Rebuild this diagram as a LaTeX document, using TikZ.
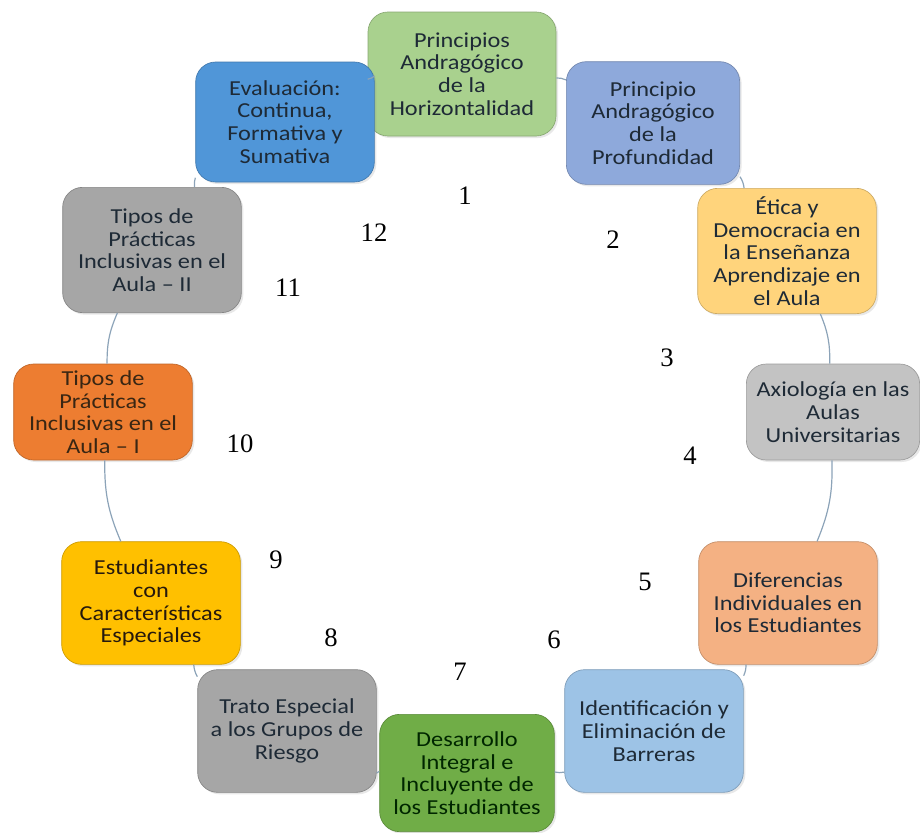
\documentclass[tikz,border=0pt]{standalone}
\usepackage{fontspec}
\newfontfamily\cajafont[FakeStretch=1.14]{Carlito}
\newfontfamily\numfont{Liberation Serif}
\usetikzlibrary{shadows}
\definecolor{horiz}{HTML}{A9D18E}
\definecolor{profu}{HTML}{8EA9DB}
\definecolor{etica}{HTML}{FFD47C}
\definecolor{axio}{HTML}{C3C3C3}
\definecolor{difer}{HTML}{F4B183}
\definecolor{ident}{HTML}{9DC3E6}
\definecolor{desar}{HTML}{70AD47}
\definecolor{trato}{HTML}{A6A6A6}
\definecolor{estud}{HTML}{FFC000}
\definecolor{tiposI}{HTML}{ED7D31}
\definecolor{tiposII}{HTML}{A6A6A6}
\definecolor{evalu}{HTML}{5096D8}
\definecolor{texto}{HTML}{1E2A36}
\definecolor{linea}{HTML}{8CA3B8}

\begin{document}
\begin{tikzpicture}[x=0.75pt,y=-0.75pt,
  etapa/.style={draw=#1!80!black, fill=#1, rounded corners=15pt, line width=0.5pt,
    align=center, minimum width=134pt, minimum height=92pt, inner sep=2pt,
    drop shadow={opacity=0.18, shadow xshift=1.5pt, shadow yshift=-1.5pt},
    text=texto, font=\cajafont\fontsize{16}{17}\selectfont},
  numero/.style={font=\numfont\fontsize{20}{20}\selectfont},
  enlace/.style={draw=linea, line width=0.9pt}]
\useasboundingbox (0,0) rectangle (920,832);

\node[etapa=horiz, minimum width=141pt, minimum height=93pt] (e1) at (462,74) {Principios\\Andragógico\\de la\\Horizontalidad};
\node[etapa=profu, minimum width=130pt] (e2) at (653,123) {Principio\\Andragógico\\de la\\Profundidad};
\node[etapa=etica, minimum height=94pt] (e3) at (787,251) {Ética y\\Democracia en\\la Enseñanza\\Aprendizaje en\\el Aula};
\node[etapa=axio, minimum width=130pt, minimum height=72pt] (e4) at (833,412) {Axiología en las\\Aulas\\Universitarias};
\node[etapa=difer] (e5) at (788,603) {Diferencias\\Individuales en\\los Estudiantes};
\node[etapa=ident] (e6) at (654,731) {Identificación y\\Eliminación de\\Barreras};
\node[etapa=desar, minimum width=131pt, minimum height=88pt, text=black!85!green] (e7) at (467,773) {Desarrollo\\Integral e\\Incluyente de\\los Estudiantes};
\node[etapa=trato] (e8) at (287,731) {Trato Especial\\a los Grupos de\\Riesgo};
\node[etapa=estud, text=black!80!brown] (e9) at (151,603) {Estudiantes\\con\\Características\\Especiales};
\node[etapa=tiposI, minimum height=72pt, text=black!70!brown] (e10) at (103,412) {Tipos de\\Prácticas\\Inclusivas en el\\Aula – I};
\node[etapa=tiposII, minimum height=94pt] (e11) at (152,250) {Tipos de\\Prácticas\\Inclusivas en el\\Aula – II};
\node[etapa=evalu, minimum height=90pt] (e12) at (285,122) {Evaluación:\\Continua,\\Formativa y\\Sumativa};

\foreach \a/\b in {e1/e2,e2/e3,e3/e4,e4/e5,e5/e6,e6/e7,e7/e8,e8/e9,e9/e10,e10/e11,e11/e12,e12/e1}
  \draw[enlace] (\a) to[bend left=12] (\b);

\node[numero] (n1) at (465,196) {1};
\node[numero] (n2) at (613,240) {2};
\node[numero] (n3) at (667,358) {3};
\node[numero] (n4) at (690,456) {4};
\node[numero] (n5) at (645,582) {5};
\node[numero] (n6) at (554,640) {6};
\node[numero] (n7) at (460,672) {7};
\node[numero] (n8) at (331,638) {8};
\node[numero] (n9) at (276,560) {9};
\node[numero] (n10) at (240,444) {10};
\node[numero] (n11) at (288,288) {11};
\node[numero] (n12) at (374,233) {12};
\end{tikzpicture}
\end{document}
